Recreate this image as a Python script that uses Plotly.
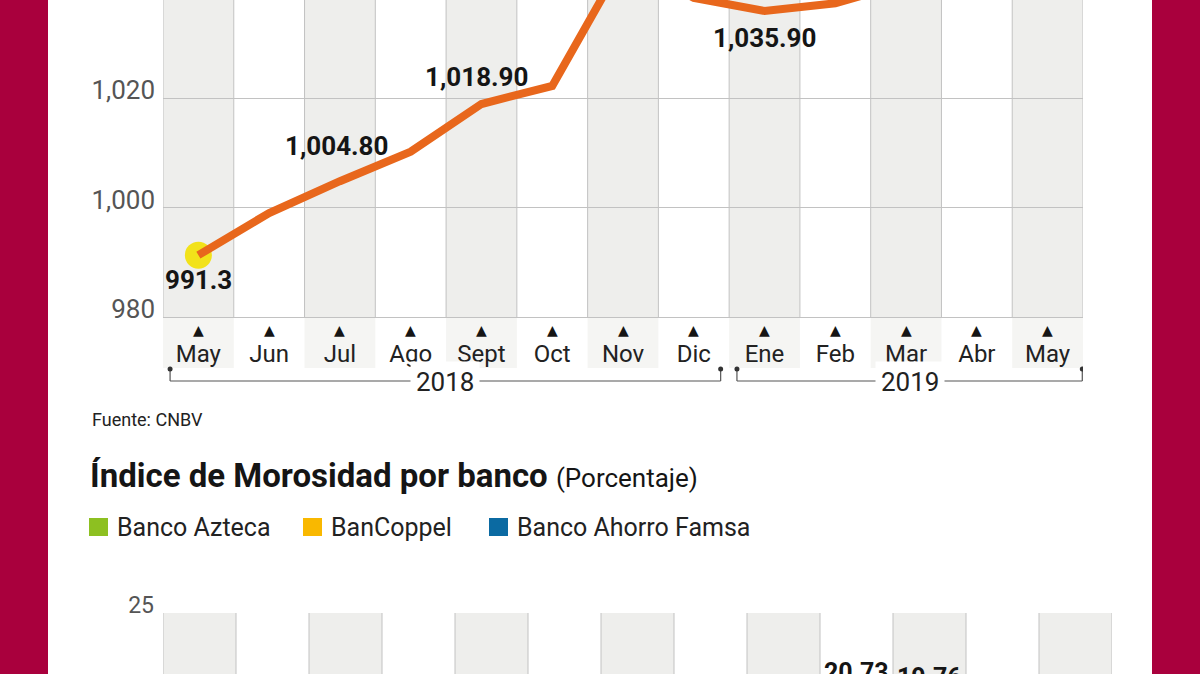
import plotly.graph_objects as go

W, H = 1200, 674

def py(p):
    return 1 - p / H

def pxf(p):
    return p / W

# ---------------- data ----------------
months = ["May", "Jun", "Jul", "Ago", "Sept", "Oct", "Nov", "Dic",
          "Ene", "Feb", "Mar", "Abr", "May"]
cartera = [991.3, 999.0, 1004.8, 1010.2, 1018.9, 1022.2, 1045.0, 1038.3,
           1035.9, 1037.3, 1041.0, 1042.5, 1044.0]
cartera_labels = ["991.3", "", "1,004.80", "", "1,018.90", "", "", "",
                  "1,035.90", "", "", "", ""]
years = ["2018", "2019"]
year_first = [0, 8]
year_last = [7, 12]
y_tickvals = [980, 1000, 1020]
y_ticktext = ["980", "1,000", "1,020"]

banks = ["Banco Azteca", "BanCoppel", "Banco Ahorro Famsa"]
mor_idx = [9, 10]
mor_values = [20.73, 19.76]
mor_tickvals = [25]
mor_ticktext = ["25"]

# ---------------- style ----------------
FONT = "Roboto, 'Open Sans', sans-serif"
CRIMSON = "#A9003D"
BAND = "#EEEEEC"
BAND_LIGHT = "#F5F5F3"
GRID = "#C2C2C2"
ORANGE = "#E8671C"
YELLOW = "#F2E21A"
bank_colors = ["#8DC021", "#F9B800", "#0B6AA2"]
label_yshift = {0: -25, 2: 35, 4: 27, 8: -27}
label_xshift = {0: 0, 2: -3, 4: -5, 8: 0}
bracket_pad_left = [0.40, 0.39]
bracket_pad_right = [0.38, 0.49]

x_idx = list(range(len(months)))
n = len(months)

fig = go.Figure()

# top chart
fig.add_trace(go.Scatter(x=[x_idx[0]], y=[cartera[0]], mode="markers",
                         marker=dict(size=27, color=YELLOW),
                         hoverinfo="skip", showlegend=False, cliponaxis=False,
                         xaxis="x", yaxis="y"))
fig.add_trace(go.Scatter(x=x_idx, y=cartera, mode="lines",
                         line=dict(color=ORANGE, width=8),
                         hoverinfo="skip", showlegend=False,
                         xaxis="x", yaxis="y"))

# bottom chart (only the visible labels)
fig.add_trace(go.Scatter(x=mor_idx, y=mor_values, mode="markers",
                         marker=dict(size=1, color="rgba(0,0,0,0)"),
                         hoverinfo="skip", showlegend=False,
                         xaxis="x2", yaxis="y2"))

shapes = []
annotations = []

def ann(**kw):
    kw.setdefault("showarrow", False)
    kw.setdefault("xanchor", "center")
    kw.setdefault("yanchor", "middle")
    annotations.append(kw)

# crimson side bars
shapes.append(dict(type="rect", xref="paper", yref="paper", x0=0, x1=pxf(48),
                   y0=0, y1=1, fillcolor=CRIMSON, line=dict(width=0), layer="below"))
shapes.append(dict(type="rect", xref="paper", yref="paper", x0=pxf(1152), x1=1,
                   y0=0, y1=1, fillcolor=CRIMSON, line=dict(width=0), layer="below"))

# bands top chart
for i in x_idx:
    if i % 2 == 0:
        shapes.append(dict(type="rect", xref="x", yref="paper", x0=i - 0.5, x1=i + 0.5,
                           y0=py(317), y1=1, fillcolor=BAND, line=dict(width=0), layer="below"))
        shapes.append(dict(type="rect", xref="x", yref="paper", x0=i - 0.5, x1=i + 0.5,
                           y0=py(368), y1=py(317), fillcolor=BAND_LIGHT, line=dict(width=0), layer="below"))
for i in range(n + 1):
    shapes.append(dict(type="line", xref="x", yref="paper", x0=i - 0.5, x1=i - 0.5,
                       y0=py(317), y1=1, line=dict(color=GRID, width=1), layer="below"))

# bands bottom chart
for i in x_idx:
    if i % 2 == 0:
        shapes.append(dict(type="rect", xref="x2", yref="paper", x0=i - 0.5, x1=i + 0.5,
                           y0=0, y1=py(613), fillcolor=BAND, line=dict(width=0), layer="below"))
for i in range(n + 1):
    shapes.append(dict(type="line", xref="x2", yref="paper", x0=i - 0.5, x1=i - 0.5,
                       y0=0, y1=py(613), line=dict(color=GRID, width=1), layer="below"))

# data labels
for i, t in enumerate(cartera_labels):
    if t:
        ann(x=i, y=cartera[i], xref="x", yref="y", text="<b>%s</b>" % t,
            yshift=label_yshift[i], xshift=label_xshift[i],
            font=dict(family=FONT, size=26, color="#151515"))

# triangles
for i in x_idx:
    ann(x=i, y=py(330), xref="x", yref="paper", text="▲",
        font=dict(family="DejaVu Sans", size=14, color="#151515"))

# year brackets
for k, yr in enumerate(years):
    x0 = year_first[k] - bracket_pad_left[k]
    x1 = year_last[k] + bracket_pad_right[k]
    shapes.append(dict(type="line", xref="x", yref="paper", x0=x0, x1=x1,
                       y0=py(381), y1=py(381), line=dict(color="#555", width=1.2)))
    for xe in (x0, x1):
        shapes.append(dict(type="line", xref="x", yref="paper", x0=xe, x1=xe,
                           y0=py(381), y1=py(369), line=dict(color="#555", width=1.2)))
        shapes.append(dict(type="circle", xref="x", yref="paper", xsizemode="pixel",
                           ysizemode="pixel", xanchor=xe, yanchor=py(369),
                           x0=-2.5, x1=2.5, y0=-2.5, y1=2.5,
                           fillcolor="#333", line=dict(width=0)))
    ann(x=(x0 + x1) / 2, y=py(382), xref="x", yref="paper", text=yr,
        bgcolor="white", borderpad=5,
        font=dict(family=FONT, size=26, color="#222"))

# source
ann(x=pxf(90), y=py(419), xref="paper", yref="paper", xanchor="left",
    text="Fuente: CNBV", font=dict(family=FONT, size=18, color="#222"))

# title bottom chart
ann(x=pxf(88), y=py(475), xref="paper", yref="paper", xanchor="left",
    text="<b>Índice de Morosidad por banco</b> <span style='font-size:26px'>(Porcentaje)</span>",
    font=dict(family=FONT, size=33, color="#151515"))

# legend
leg_sq_x = [89, 303, 489]
for k, b in enumerate(banks):
    shapes.append(dict(type="rect", xref="paper", yref="paper",
                       x0=pxf(leg_sq_x[k]), x1=pxf(leg_sq_x[k] + 19),
                       y0=py(536), y1=py(518), fillcolor=bank_colors[k], line=dict(width=0)))
    ann(x=pxf(leg_sq_x[k] + 26), y=py(527), xref="paper", yref="paper",
        xanchor="left", text=b, font=dict(family=FONT, size=25, color="#222"))

# bottom value labels
for xi, v in zip(mor_idx, mor_values):
    ann(x=xi, y=v, xref="x2", yref="y2", text="<b>%.2f</b>" % v,
        yanchor="top", yshift=-21,
        font=dict(family=FONT, size=25, color="#151515"))

fig.update_layout(
    template="none",
    width=W, height=H, autosize=False,
    margin=dict(l=0, r=0, t=0, b=0, pad=0, autoexpand=False),
    paper_bgcolor="white", plot_bgcolor="rgba(0,0,0,0)",
    showlegend=False,
    shapes=shapes, annotations=annotations,
    xaxis=dict(domain=[pxf(163), pxf(1083)], range=[-0.5, n - 0.5], automargin=False,
               tickvals=x_idx, ticktext=months, showgrid=False, zeroline=False,
               showline=True, linecolor=GRID, linewidth=1, ticks="",
               ticklabelstandoff=15, tickfont=dict(family=FONT, size=24, color="#222"),
               fixedrange=True),
    yaxis=dict(domain=[py(317), 1], range=[980, 980 + 317 / 5.475], automargin=False,
               tickvals=y_tickvals, ticktext=y_ticktext, showgrid=True, gridcolor=GRID,
               gridwidth=1, zeroline=False, ticks="", ticklabelstandoff=7,
               ticklabelshift=-8, tickfont=dict(family=FONT, size=26, color="#555"),
               fixedrange=True),
    xaxis2=dict(domain=[pxf(163), pxf(1112)], range=[-0.5, n - 0.5], anchor="y2",
                automargin=False, showticklabels=False, showgrid=False, zeroline=False,
                ticks="", fixedrange=True),
    yaxis2=dict(domain=[0, py(613)], range=[25.02 - 61 / 5.2, 25.02], anchor="x2",
                automargin=False, tickvals=mor_tickvals, ticktext=mor_ticktext,
                showgrid=True, gridcolor=GRID, gridwidth=1, zeroline=False, ticks="",
                ticklabelstandoff=8, ticklabelshift=-8,
                tickfont=dict(family=FONT, size=23, color="#555"), fixedrange=True),
)

fig.write_html("out.html", config={"displayModeBar": False, "responsive": False})

# remove the default page margin so the figure fills the window exactly
with open("out.html", "r", encoding="utf-8") as f:
    html = f.read()
html = html.replace("<head>", "<head><style>html,body{margin:0;padding:0;overflow:hidden;}</style>", 1)
with open("out.html", "w", encoding="utf-8") as f:
    f.write(html)
